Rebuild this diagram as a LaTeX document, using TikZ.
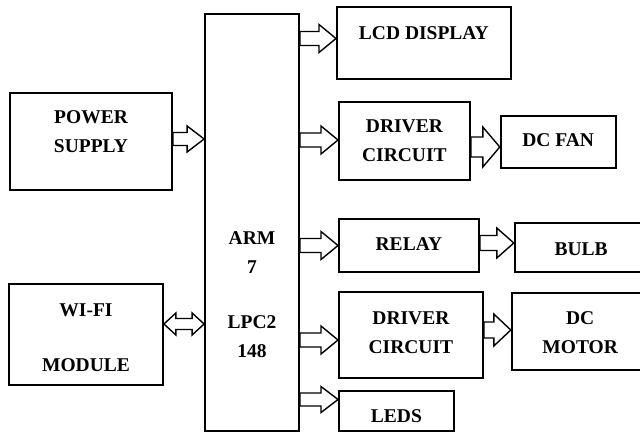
\documentclass[tikz,border=0pt]{standalone}
\usepackage{fontspec}
\setmainfont{Liberation Serif}
\usetikzlibrary{positioning,calc}

\newcommand{\barrow}[4][7pt]{%
  \draw[blk] let \p1=(#2), \p2=(#3) in
    (\x1,{\y1+(#4)-#1}) -- ({\x2-17pt},{\y1+(#4)-#1}) -- ({\x2-17pt},{\y1+(#4)-2*#1})
    -- (\x2,{\y1+(#4)}) -- ({\x2-17pt},{\y1+(#4)+2*#1}) -- ({\x2-17pt},{\y1+(#4)+#1})
    -- (\x1,{\y1+(#4)+#1}) -- cycle;}
\newcommand{\dbarrow}[3]{%
  \draw[blk] let \p1=(#1), \p2=(#2) in
    (\x1,{\y1+(#3)}) -- ({\x1+12pt},{\y1+(#3)+11pt}) -- ({\x1+12pt},{\y1+(#3)+5.5pt})
    -- ({\x2-12pt},{\y1+(#3)+5.5pt}) -- ({\x2-12pt},{\y1+(#3)+11pt}) -- (\x2,{\y1+(#3)})
    -- ({\x2-12pt},{\y1+(#3)-11pt}) -- ({\x2-12pt},{\y1+(#3)-5.5pt})
    -- ({\x1+12pt},{\y1+(#3)-5.5pt}) -- ({\x1+12pt},{\y1+(#3)-11pt}) -- cycle;}

\begin{document}
\begin{tikzpicture}[
    x=1pt, y=-1pt,
    box/.style={draw, line width=1.8pt, inner sep=0pt, align=center, font=\bfseries\fontsize{19.5}{29}\selectfont},
    blk/.style={draw, line width=1.4pt, line join=miter}
]
\useasboundingbox (0,0) rectangle (640,433);
\clip (0,0) rectangle (640,433);
\node[box, minimum width=94pt, minimum height=417pt, text height=274pt, text depth=5pt] (arm) at (252,222.5) {ARM\\7\\[26pt]LPC2\\148};
\node[box, minimum width=162pt, minimum height=97pt, text height=28pt, text depth=5pt] (power) at (91,141.5) {POWER\\SUPPLY};
\node[box, minimum width=154pt, minimum height=101pt, text height=78pt, text depth=5pt] (wifi) at (86,334.5) {WI-FI\\[26pt]MODULE};
\node[box, anchor=west, minimum width=174pt, minimum height=72pt, text height=5pt, text depth=11pt] (lcd) at (336,43) {LCD DISPLAY};
\node[box, anchor=west, minimum width=131pt, minimum height=78pt, text height=47pt, text depth=5pt] (drv1) at (338,141) {DRIVER\\CIRCUIT};
\node[box, right=29pt of drv1, yshift=-1pt, minimum width=115pt, minimum height=52pt, text height=15pt, text depth=5pt] (fan) {DC FAN};
\node[box, anchor=west, minimum width=140pt, minimum height=53pt, text height=14pt, text depth=5pt] (relay) at (338,245.5) {RELAY};
\node[box, right=34pt of relay, yshift=-2pt, minimum width=133pt, minimum height=49pt, text height=20pt, text depth=5pt] (bulb) {BULB};
\node[box, anchor=west, minimum width=144pt, minimum height=86pt, text height=41pt, text depth=5pt] (drv2) at (338,335) {DRIVER\\CIRCUIT};
\node[box, right=27pt of drv2, yshift=3.5pt, minimum width=137pt, minimum height=77pt, text height=48pt, text depth=5pt] (motor) {DC\\MOTOR};
\node[box, anchor=west, minimum width=115pt, minimum height=40pt, text height=28pt, text depth=5pt] (leds) at (338,411) {LEDS};
\barrow[6.5pt]{power.east}{arm.west}{2.5pt}
\dbarrow{wifi.east}{arm.west}{10.5pt}
\barrow{arm.east |- lcd.west}{lcd.west}{4.5pt}
\barrow{arm.east |- drv1.west}{drv1.west}{1pt}
\barrow{arm.east |- relay.west}{relay.west}{0pt}
\barrow{arm.east |- drv2.west}{drv2.west}{-5pt}
\barrow[6.5pt]{arm.east |- leds.west}{leds.west}{11.5pt}
\barrow[10pt]{drv1.east}{fan.west}{-6pt}
\barrow[7.5pt]{relay.east}{bulb.west}{2.5pt}
\barrow[8pt]{drv2.east}{motor.west}{5pt}
\end{tikzpicture}
\end{document}
